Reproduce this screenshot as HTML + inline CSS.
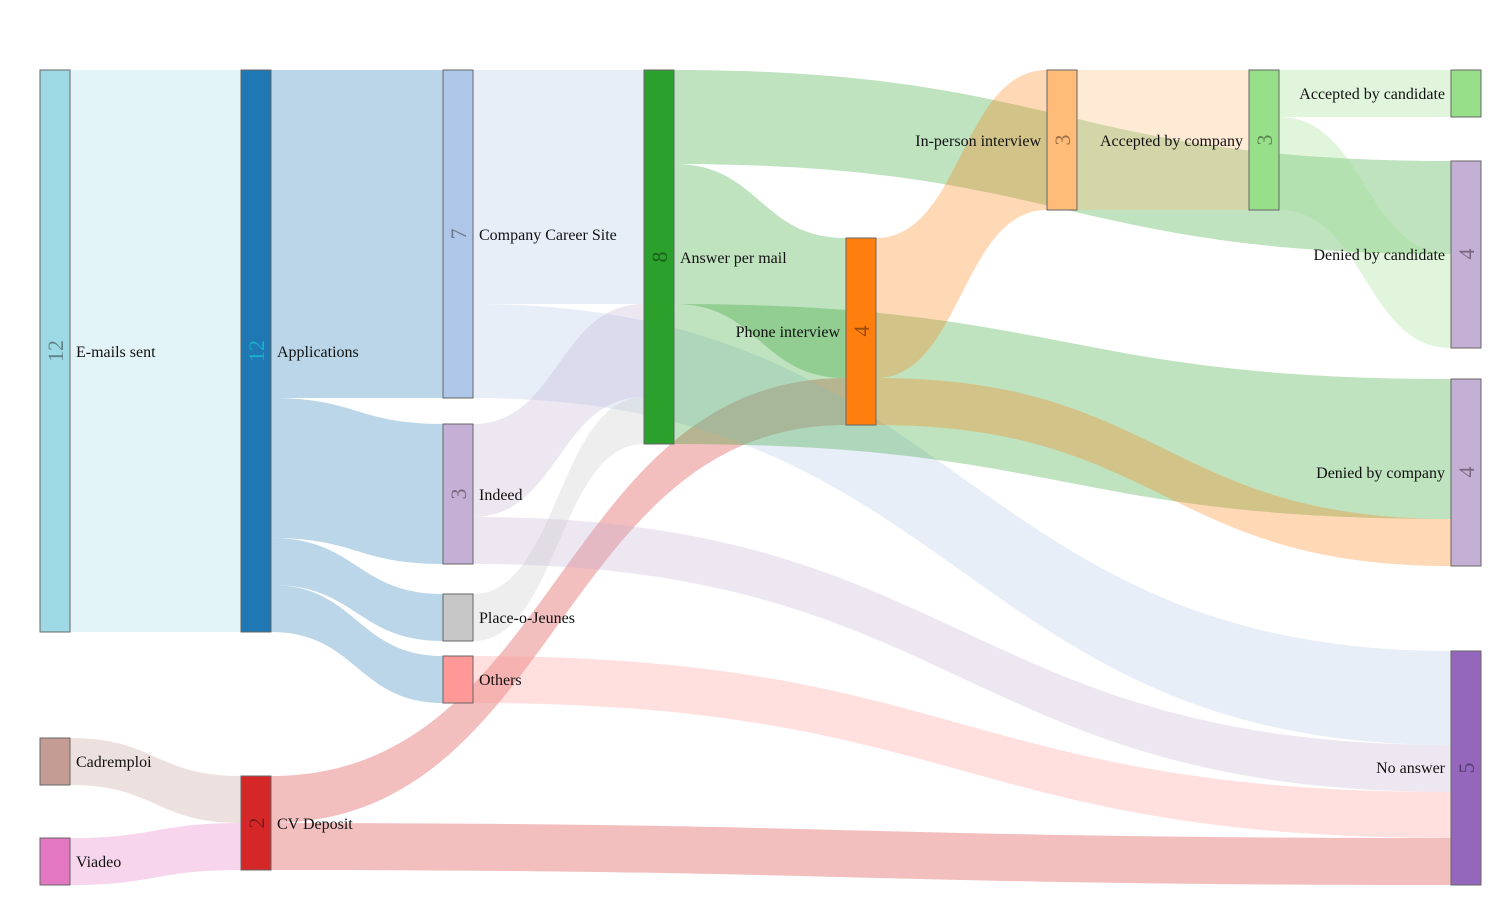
<!DOCTYPE html>
<html><head><meta charset="utf-8"><style>
html,body{margin:0;padding:0;background:#fff}
svg{display:block}
svg text{font-family:"Liberation Serif","DejaVu Serif",serif}
.l{font-size:16px;fill:#111}
.n{font-size:22px;fill:#000;fill-opacity:.4}
rect{stroke:#666;stroke-width:1}
</style></head><body>
<svg width="1491" height="915" viewBox="0 0 1491 915" xmlns="http://www.w3.org/2000/svg" font-family="Liberation Serif, serif">
<g fill-opacity="0.3">
<path d="M70,70 C155.5,70 155.5,70 241,70 L241,632 C155.5,632 155.5,632 70,632Z" fill="#9edae5"/>
<path d="M70,738 C155.5,738 155.5,776 241,776 L241,823 C155.5,823 155.5,785 70,785Z" fill="#c49c94"/>
<path d="M70,838 C155.5,838 155.5,823 241,823 L241,870 C155.5,870 155.5,885 70,885Z" fill="#e377c2"/>
<path d="M271,70 C357,70 357,70 443,70 L443,398 C357,398 357,398 271,398Z" fill="#1f77b4"/>
<path d="M271,398 C357,398 357,424 443,424 L443,564 C357,564 357,538 271,538Z" fill="#1f77b4"/>
<path d="M271,538 C357,538 357,594 443,594 L443,641 C357,641 357,585 271,585Z" fill="#1f77b4"/>
<path d="M271,585 C357,585 357,656 443,656 L443,703 C357,703 357,632 271,632Z" fill="#1f77b4"/>
<path d="M271,776 C558.5,776 558.5,378 846,378 L846,425 C558.5,425 558.5,823 271,823Z" fill="#d62728"/>
<path d="M271,823 C861,823 861,838 1451,838 L1451,885 C861,885 861,870 271,870Z" fill="#d62728"/>
<path d="M473,70 C558.5,70 558.5,70 644,70 L644,304 C558.5,304 558.5,304 473,304Z" fill="#aec7e8"/>
<path d="M473,304 C962,304 962,651 1451,651 L1451,745 C962,745 962,398 473,398Z" fill="#aec7e8"/>
<path d="M473,424 C558.5,424 558.5,304 644,304 L644,397 C558.5,397 558.5,517 473,517Z" fill="#c5b0d5"/>
<path d="M473,517 C962,517 962,745 1451,745 L1451,792 C962,792 962,564 473,564Z" fill="#c5b0d5"/>
<path d="M473,594 C558.5,594 558.5,397 644,397 L644,444 C558.5,444 558.5,641 473,641Z" fill="#c7c7c7"/>
<path d="M473,656 C962,656 962,792 1451,792 L1451,838 C962,838 962,703 473,703Z" fill="#ff9896"/>
<path d="M674,70 C1062.5,70 1062.5,161 1451,161 L1451,254 C1062.5,254 1062.5,164 674,164Z" fill="#2ca02c"/>
<path d="M674,164 C760,164 760,238 846,238 L846,378 C760,378 760,304 674,304Z" fill="#2ca02c"/>
<path d="M674,304 C1062.5,304 1062.5,379 1451,379 L1451,519 C1062.5,519 1062.5,444 674,444Z" fill="#2ca02c"/>
<path d="M876,238 C961.5,238 961.5,70 1047,70 L1047,210 C961.5,210 961.5,378 876,378Z" fill="#ff7f0e"/>
<path d="M876,378 C1163.5,378 1163.5,519 1451,519 L1451,566 C1163.5,566 1163.5,425 876,425Z" fill="#ff7f0e"/>
<path d="M1077,70 C1163,70 1163,70 1249,70 L1249,210 C1163,210 1163,210 1077,210Z" fill="#ffbb78"/>
<path d="M1279,70 C1365,70 1365,70 1451,70 L1451,117 C1365,117 1365,117 1279,117Z" fill="#98df8a"/>
<path d="M1279,117 C1365,117 1365,254 1451,254 L1451,348 C1365,348 1365,210 1279,210Z" fill="#98df8a"/>
</g>
<rect x="40" y="70" width="30" height="562" fill="#9edae5"/>
<rect x="40" y="738" width="30" height="47" fill="#c49c94"/>
<rect x="40" y="838" width="30" height="47" fill="#e377c2"/>
<rect x="241" y="70" width="30" height="562" fill="#1f77b4"/>
<rect x="241" y="776" width="30" height="94" fill="#d62728"/>
<rect x="443" y="70" width="30" height="328" fill="#aec7e8"/>
<rect x="443" y="424" width="30" height="140" fill="#c5b0d5"/>
<rect x="443" y="594" width="30" height="47" fill="#c7c7c7"/>
<rect x="443" y="656" width="30" height="47" fill="#ff9896"/>
<rect x="644" y="70" width="30" height="374" fill="#2ca02c"/>
<rect x="846" y="238" width="30" height="187" fill="#ff7f0e"/>
<rect x="1047" y="70" width="30" height="140" fill="#ffbb78"/>
<rect x="1249" y="70" width="30" height="140" fill="#98df8a"/>
<rect x="1451" y="70" width="30" height="47" fill="#98df8a"/>
<rect x="1451" y="161" width="30" height="187" fill="#c5b0d5"/>
<rect x="1451" y="379" width="30" height="187" fill="#c5b0d5"/>
<rect x="1451" y="651" width="30" height="234" fill="#9467bd"/>
<g class="n" text-anchor="middle" font-family="Liberation Serif, serif">
<text transform="translate(63,351) rotate(-90)">12</text>
<text transform="translate(264,351) rotate(-90)" style="fill:#17becf;fill-opacity:.8">12</text>
<text transform="translate(466,234) rotate(-90)">7</text>
<text transform="translate(466,494) rotate(-90)">3</text>
<text transform="translate(264,823) rotate(-90)">2</text>
<text transform="translate(667,257) rotate(-90)">8</text>
<text transform="translate(869,331) rotate(-90)">4</text>
<text transform="translate(1070,140) rotate(-90)">3</text>
<text transform="translate(1272,140) rotate(-90)">3</text>
<text transform="translate(1474,254) rotate(-90)">4</text>
<text transform="translate(1474,472) rotate(-90)">4</text>
<text transform="translate(1474,768) rotate(-90)">5</text>
</g>
<g class="l" font-family="Liberation Serif, serif">
<text x="76" y="357">E-mails sent</text>
<text x="76" y="767">Cadremploi</text>
<text x="76" y="867">Viadeo</text>
<text x="277" y="357">Applications</text>
<text x="277" y="829">CV Deposit</text>
<text x="479" y="240">Company Career Site</text>
<text x="479" y="500">Indeed</text>
<text x="479" y="623">Place-o-Jeunes</text>
<text x="479" y="685">Others</text>
<text x="680" y="263">Answer per mail</text>
</g>
<g class="l" text-anchor="end" font-family="Liberation Serif, serif">
<text x="840" y="337">Phone interview</text>
<text x="1041" y="146">In-person interview</text>
<text x="1243" y="146">Accepted by company</text>
<text x="1445" y="99">Accepted by candidate</text>
<text x="1445" y="260">Denied by candidate</text>
<text x="1445" y="478">Denied by company</text>
<text x="1445" y="773">No answer</text>
</g>
</svg>
</body></html>
